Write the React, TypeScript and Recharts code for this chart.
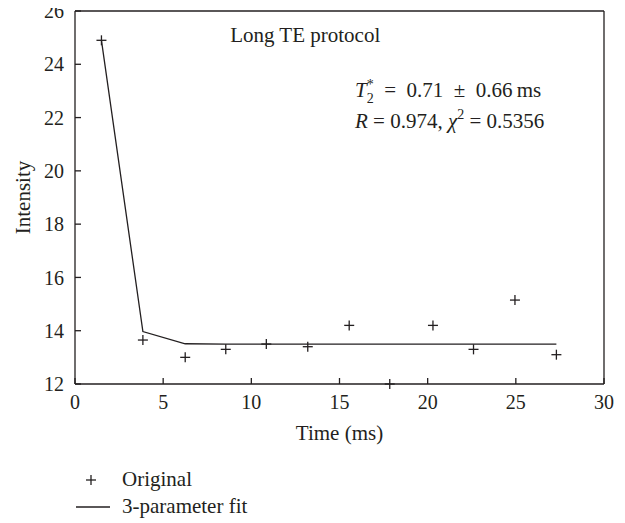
import { ComposedChart, Line, Scatter, XAxis, YAxis, ReferenceDot } from 'recharts';

// echo times (ms)
const te = [1.5, 3.85, 6.25, 8.55, 10.85, 13.2, 15.55, 17.85, 20.3, 22.6, 24.95, 27.3];
// measured intensity
const original = [24.9, 13.65, 13.0, 13.3, 13.5, 13.4, 14.2, 12.0, 14.2, 13.3, 15.15, 13.1];
// 3-parameter fit evaluated at each echo time
const fit = [24.9, 13.97, 13.51, 13.5, 13.5, 13.5, 13.5, 13.5, 13.5, 13.5, 13.5, 13.5];

const xTicks = [0, 5, 10, 15, 20, 25, 30];
const yTicks = [12, 14, 16, 18, 20, 22, 24, 26];
const seriesNames = ['Original', '3-parameter fit'];

const FONT = '"Liberation Serif", "Times New Roman", serif';
const INK = '#231f20';
const FS = 21; // labels
const TFS = 20; // tick labels
const TICK = 6; // inward tick length
const GAP = 11; // tick label distance from axis

const pointData = te.map((x, i) => ({ x, y: original[i] }));
const fitData = te.map((x, i) => ({ x, y: fit[i] }));

function Plus(props: any) {
  const { cx, cy } = props;
  return (
    <g stroke={INK} strokeWidth={1.3}>
      <line x1={cx - 5} y1={cy} x2={cx + 5} y2={cy} />
      <line x1={cx} y1={cy - 5} x2={cx} y2={cy + 5} />
    </g>
  );
}

// ticks point into the plot on every side; tickSize is 0 so x/y are the label anchor
function InTick(props: any) {
  const { x, y, payload, side, showLabel } = props;
  if (side === 'bottom') {
    const ay = y - GAP;
    return (
      <g>
        <line x1={x} y1={ay} x2={x} y2={ay - TICK} stroke={INK} strokeWidth={1.3} />
        {showLabel && (
          <text x={x} y={y} dy="0.71em" textAnchor="middle" fontSize={TFS} fontFamily={FONT} fill={INK}>
            {payload.value}
          </text>
        )}
      </g>
    );
  }
  if (side === 'left') {
    const ax = x + GAP;
    return (
      <g>
        <line x1={ax} y1={y} x2={ax + TICK} y2={y} stroke={INK} strokeWidth={1.3} />
        {showLabel && (
          <text x={x} y={y} dy="0.355em" textAnchor="end" fontSize={TFS} fontFamily={FONT} fill={INK}>
            {payload.value}
          </text>
        )}
      </g>
    );
  }
  if (side === 'top') {
    return <line x1={x} y1={y} x2={x} y2={y + TICK} stroke={INK} strokeWidth={1.3} />;
  }
  return <line x1={x} y1={y} x2={x - TICK} y2={y} stroke={INK} strokeWidth={1.3} />;
}

// text anchored at a data point: x = start, y = baseline
function noteLabel(render: (x: number, y: number) => any) {
  return (props: any) => {
    const vb = props.viewBox || {};
    return render(vb.x, vb.y);
  };
}

export default function App() {
  return (
    <div style={{ width: 625, margin: '-8px 0 0 -8px', fontFamily: FONT }}>
      <ComposedChart width={625} height={453} margin={{ top: 10, right: 20, bottom: 9, left: 0 }}>
        <XAxis
          xAxisId="bottom"
          dataKey="x"
          type="number"
          domain={[0, 30]}
          ticks={xTicks}
          height={60}
          stroke={INK}
          strokeWidth={1.3}
          tickLine={false}
          tickSize={0}
          tickMargin={GAP}
          tick={<InTick side="bottom" showLabel />}
          label={(p: any) => {
            const vb = p.viewBox;
            return (
              <text x={vb.x + vb.width / 2} y={vb.y + 56} textAnchor="middle" fontSize={FS} fontFamily={FONT} fill={INK}>
                Time (ms)
              </text>
            );
          }}
        />
        <XAxis
          xAxisId="top"
          dataKey="x"
          type="number"
          orientation="top"
          domain={[0, 30]}
          ticks={xTicks}
          height={1}
          stroke={INK}
          strokeWidth={1.3}
          tickLine={false}
          tickSize={0}
          tickMargin={0}
          tick={<InTick side="top" />}
        />
        <YAxis
          yAxisId="left"
          type="number"
          domain={[12, 26]}
          ticks={yTicks}
          width={75}
          stroke={INK}
          strokeWidth={1.3}
          tickLine={false}
          tickSize={0}
          tickMargin={GAP}
          tick={<InTick side="left" showLabel />}
          label={(p: any) => {
            const vb = p.viewBox;
            const cx = 23;
            const cy = vb.y + vb.height / 2;
            return (
              <text x={cx} y={cy} transform={`rotate(-90 ${cx} ${cy})`} textAnchor="middle" dominantBaseline="central" fontSize={FS} fontFamily={FONT} fill={INK}>
                Intensity
              </text>
            );
          }}
        />
        <YAxis
          yAxisId="right"
          type="number"
          orientation="right"
          domain={[12, 26]}
          ticks={yTicks}
          width={1}
          stroke={INK}
          strokeWidth={1.3}
          tickLine={false}
          tickSize={0}
          tickMargin={0}
          tick={<InTick side="right" />}
        />
        <Line
          xAxisId="bottom"
          yAxisId="left"
          data={fitData}
          dataKey="y"
          name={seriesNames[1]}
          type="linear"
          stroke={INK}
          strokeWidth={1.3}
          dot={false}
          isAnimationActive={false}
        />
        <Scatter
          xAxisId="bottom"
          yAxisId="left"
          data={pointData}
          dataKey="y"
          name={seriesNames[0]}
          shape={<Plus />}
          isAnimationActive={false}
        />
        <ReferenceDot
          xAxisId="bottom"
          yAxisId="left"
          x={8.8}
          y={24.84}
          r={0}
          stroke="none"
          label={noteLabel((x, y) => (
            <text x={x} y={y} fontSize={FS} fontFamily={FONT} fill={INK}>
              Long TE protocol
            </text>
          ))}
        />
        <ReferenceDot
          xAxisId="bottom"
          yAxisId="left"
          x={15.88}
          y={22.77}
          r={0}
          stroke="none"
          label={noteLabel((x, y) => (
            <text x={x} y={y} fontSize={FS} fontFamily={FONT} fill={INK}>
              <tspan fontStyle="italic">T</tspan>
              <tspan fontSize={14} dy={6}>2</tspan>
              <tspan fontSize={14} dx={-7} dy={-14}>*</tspan>
              <tspan dy={8}>{'\u2002=\u20020.71\u2002\u00b1\u20020.66\u2009ms'}</tspan>
            </text>
          ))}
        />
        <ReferenceDot
          xAxisId="bottom"
          yAxisId="left"
          x={15.88}
          y={21.61}
          r={0}
          stroke="none"
          label={noteLabel((x, y) => (
            <text x={x} y={y} fontSize={FS} fontFamily={FONT} fill={INK}>
              <tspan fontStyle="italic">R</tspan>
              <tspan>{' = 0.974, '}</tspan>
              <tspan fontStyle="italic">{'\u03c7'}</tspan>
              <tspan fontSize={14} dy={-9}>2</tspan>
              <tspan dy={9}>{' = 0.5356'}</tspan>
            </text>
          ))}
        />
      </ComposedChart>
      <div style={{ position: 'relative', height: 70, fontSize: FS, color: INK }}>
        <svg width={40} height={60} style={{ position: 'absolute', left: 74, top: 0 }}>
          <line x1={12} y1={27} x2={22} y2={27} stroke={INK} strokeWidth={1.3} />
          <line x1={17} y1={22} x2={17} y2={32} stroke={INK} strokeWidth={1.3} />
          <line x1={2} y1={54} x2={36} y2={54} stroke={INK} strokeWidth={1.3} />
        </svg>
        <div style={{ position: 'absolute', left: 122, top: 14, lineHeight: '24px' }}>{seriesNames[0]}</div>
        <div style={{ position: 'absolute', left: 122, top: 41, lineHeight: '24px' }}>{seriesNames[1]}</div>
      </div>
    </div>
  );
}
